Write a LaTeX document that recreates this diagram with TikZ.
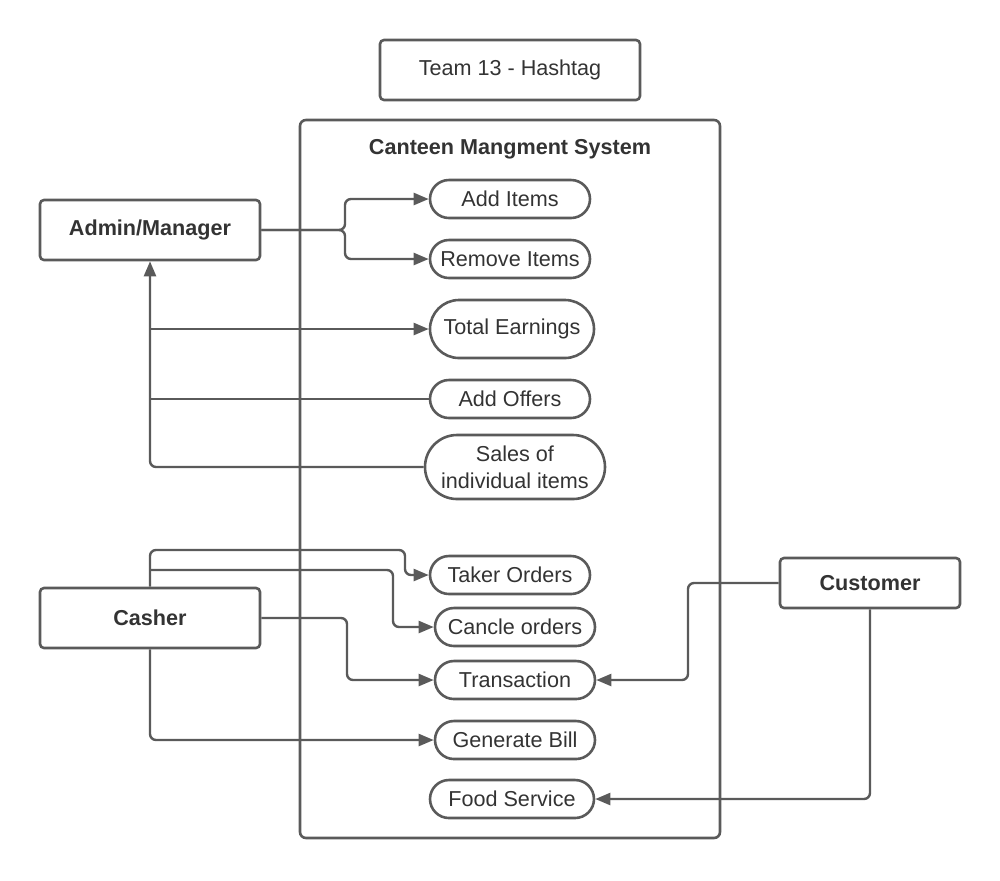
\documentclass[tikz,border=0pt]{standalone}
\usepackage{fontspec}
\setmainfont{Liberation Sans}
\usetikzlibrary{arrows.meta,shapes.misc}
\definecolor{linegray}{HTML}{5A5A5A}
\definecolor{textgray}{HTML}{333333}
\begin{document}
\begin{tikzpicture}[x=0.5pt,y=0.5pt]
\tikzstyle{every node}+=[font=\fontsize{10.8}{13.5}\selectfont,text=textgray,inner sep=0pt]
\tikzstyle{actor}=[draw=linegray,line width=1.3pt,rounded corners=2pt,minimum width=110pt,minimum height=30pt,font=\fontsize{10.8}{13.5}\selectfont\bfseries]
\tikzstyle{usecase}=[draw=linegray,line width=1.3pt,rounded rectangle,minimum width=80pt,minimum height=19pt,align=center]
\tikzstyle{link}=[draw=linegray,line width=1.2pt,rounded corners=3pt]
\tikzstyle{tip}=[-{Triangle[length=7.5pt,width=6pt]}]
\useasboundingbox (0,0) rectangle (1000,-880);
% title and system boundary
\node [draw=linegray,line width=1.3pt,rounded corners=2pt,minimum width=130pt,minimum height=30pt] (team) at (510,-70) {Team 13 - Hashtag};
\draw [linegray,line width=1.3pt,rounded corners=3pt] (300,-120) rectangle (720,-838);
\node [font=\fontsize{10.8}{13.5}\selectfont\bfseries] (system) at (510,-149) {Canteen Mangment System};
% actors
\node [actor] (admin) at (150,-230) {Admin/Manager};
\node [actor] (casher) at (150,-618) {Casher};
\node [actor,minimum width=90pt,minimum height=25pt] (customer) at (870,-583) {Customer};
% use cases
\node [usecase] (additems) at (510,-199) {Add Items};
\node [usecase] (removeitems) at (510,-259) {Remove Items};
\node [usecase,minimum width=82pt,minimum height=29pt] (earnings) at (512,-329) {Total Earnings};
\node [usecase] (offers) at (510,-399) {Add Offers};
\node [usecase,minimum width=90pt,minimum height=32pt] (sales) at (515,-467) {Sales of\\individual items};
\node [usecase] (takeorders) at (510,-575) {Taker Orders};
\node [usecase] (cancelorders) at (515,-627) {Cancle orders};
\node [usecase] (transaction) at (515,-680) {Transaction};
\node [usecase] (bill) at (515,-740) {Generate Bill};
\node [usecase,minimum width=82pt] (foodservice) at (512,-799) {Food Service};
% admin links
\coordinate (adminsplit) at (345,-230);
\draw [link,tip] (admin.east) -- (adminsplit) |- (additems.west);
\draw [link,tip] (admin.east) -- (adminsplit) |- (removeitems.west);
\draw [link,tip] (sales.west) -| (admin.south);
\draw [link] (offers.west) -- (offers.west -| admin.south);
\draw [link,tip] (earnings.west -| admin.south) -- (earnings.west);
% casher links
\coordinate (taketurn) at (405,-550);
\coordinate (cancelturn) at (393,-570);
\draw [link,tip] (casher.north) |- (taketurn) |- (takeorders.west);
\draw [link,tip] (casher.north |- cancelturn) -- (cancelturn) |- (cancelorders.west);
\draw [link,tip] (casher.east) -- (347,-618) |- (transaction.west);
\draw [link,tip] (casher.south) |- (bill.west);
% customer links
\draw [link,tip] (customer.west) -- (688,-583) |- (transaction.east);
\draw [link,tip] (customer.south) |- (foodservice.east);
\end{tikzpicture}
\end{document}
